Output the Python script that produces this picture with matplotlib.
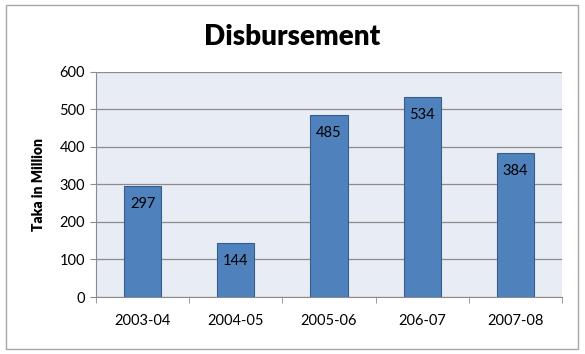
import matplotlib.pyplot as plt
from matplotlib.patches import Rectangle

# data
years = ['2003-04', '2004-05', '2005-06', '206-07', '2007-08']
disbursement = [297, 144, 485, 534, 384]

plt.rcParams['font.family'] = ['Lato', 'DejaVu Sans']

fig = plt.figure(figsize=(5.85, 3.54), dpi=100)
ax = fig.add_axes([0.164, 0.161, 0.797, 0.636])

# outer chart border
fig.patches.append(Rectangle((0.010, 0.014), 0.978, 0.972, transform=fig.transFigure,
                             fill=False, edgecolor='#a6a6a6', linewidth=1.0))

x = range(len(years))
bars = ax.bar(x, disbursement, width=0.4, color='#4f81bd', edgecolor='#385d8a',
              linewidth=0.8, zorder=3)

for xi, v in zip(x, disbursement):
    ax.annotate(str(v), (xi, v), xytext=(0, -8), textcoords='offset points',
                ha='center', va='top', fontsize=10.5, color='black', zorder=4)

ax.set_xlim(-0.5, len(years) - 0.5)
ax.set_ylim(0, 600)
ax.set_yticks(range(0, 601, 100))
ax.set_facecolor('#e8ecf4')
ax.grid(axis='y', color='#8c8c8c', linewidth=0.9, zorder=1)

# category ticks sit between the bars
ax.set_xticks(x)
ax.set_xticklabels(years, fontsize=10.5)
ax.tick_params(axis='x', length=0, pad=12)
ax.set_xticks([i - 0.5 for i in range(len(years) + 1)], minor=True)
ax.tick_params(axis='x', which='minor', length=4, color='#8c8c8c', direction='out')
ax.tick_params(axis='y', length=4, color='#8c8c8c', labelsize=10.5, pad=4)

for side in ['top', 'right']:
    ax.spines[side].set_visible(False)
ax.spines['left'].set_color('#8c8c8c')
ax.spines['bottom'].set_color('#8c8c8c')

ax.set_ylabel('Taka in Million', fontsize=10, fontweight='heavy', labelpad=10)
fig.text(0.5, 0.895, 'Disbursement', ha='center', va='center', fontsize=20, fontweight='heavy')

fig.savefig('out.png', dpi=100)
